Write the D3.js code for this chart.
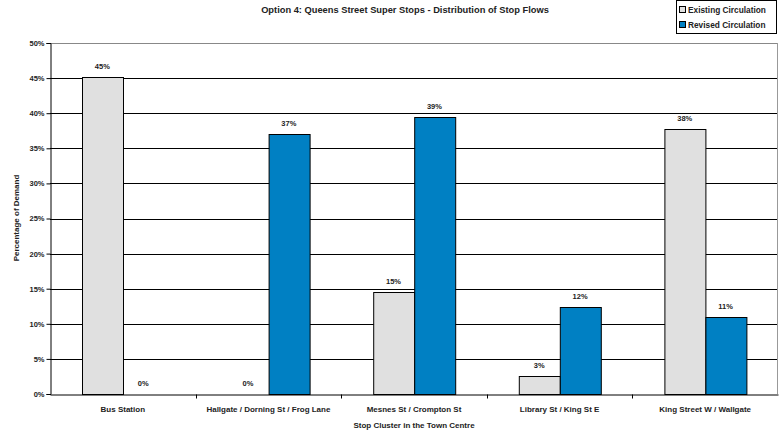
<!DOCTYPE html>
<html><head><meta charset="utf-8">
<script src="https://cdn.jsdelivr.net/npm/d3@7"></script>
<style>body{margin:0;background:#fff}svg{display:block}text{font-family:"Liberation Sans",Arial,sans-serif;font-weight:bold}</style>
</head><body><svg id="c" width="779" height="437"></svg>
<script>
const categories = ["Bus Station","Hallgate / Dorning St / Frog Lane","Mesnes St / Crompton St","Library St / King St E","King Street W / Wallgate"];
const seriesNames = ["Existing Circulation","Revised Circulation"];
const existing = [45.2, 0, 14.5, 2.5, 37.8];
const revised = [0, 37.0, 39.4, 12.4, 11.0];
const yTicks = [0,5,10,15,20,25,30,35,40,45,50];
const colors = ["#E0E0E0","#0080C3"];

const svg = d3.select("#c");
const m = {l:50, r:1, t:43, b:43};
const W = 779, H = 437;
const x0 = d3.scaleBand().domain(categories).range([m.l, W-m.r]).paddingInner(0).paddingOuter(0);
const x1 = d3.scaleBand().domain(seriesNames).range([0, x0.bandwidth()]).paddingInner(0).paddingOuter(0.78);
const y = d3.scaleLinear().domain([0,50]).range([H-m.b, m.t]);

// gridlines
svg.append("g").selectAll("line").data(yTicks.filter(t=>t>0)).join("line")
  .attr("x1", m.l).attr("x2", W-m.r).attr("y1", d=>Math.round(y(d))+0.5).attr("y2", d=>Math.round(y(d))+0.5)
  .attr("stroke", d=>d===50?"#888":"#000").attr("stroke-width",1);
// right border
svg.append("line").attr("x1",W-m.r-0.5).attr("x2",W-m.r-0.5).attr("y1",m.t).attr("y2",H-m.b).attr("stroke","#999");

const data = categories.map((c,i)=>({c, vals:[existing[i], revised[i]]}));
const g = svg.append("g").selectAll("g").data(data).join("g").attr("transform", d=>`translate(${x0(d.c)},0)`);
g.selectAll("rect").data(d=>d.vals.map((v,j)=>({v,s:seriesNames[j],j}))).join("rect")
  .filter(d=>d.v>0)
  .attr("x", d=>Math.round(x1(d.s))+0.5).attr("width", Math.round(x1.bandwidth()))
  .attr("y", d=>Math.round(y(d.v))+0.5).attr("height", d=>Math.round(y(0))-Math.round(y(d.v)))
  .attr("fill", d=>colors[d.j]).attr("stroke","#000").attr("stroke-width",1);
g.selectAll("text").data(d=>d.vals.map((v,j)=>({v,s:seriesNames[j],j}))).join("text")
  .attr("x", d=>x1(d.s)+x1.bandwidth()/2).attr("y", d=>y(d.v)-8)
  .attr("text-anchor","middle").attr("font-size","7.5px").attr("fill","#222")
  .text(d=>Math.round(d.v)+"%");

// y axis
const ya = d3.axisLeft(y).tickValues(yTicks).tickSize(4).tickFormat(d=>d+"%");
const yg = svg.append("g").attr("transform",`translate(${m.l+0.5},0)`).call(ya);
yg.select(".domain").attr("stroke","#000");
yg.selectAll(".tick text").attr("font-size","7.5px").attr("fill","#222").attr("x",-6);
// x axis
const xa = d3.axisBottom(x0).tickSize(0).tickPadding(12);
const xg = svg.append("g").attr("transform",`translate(0,${H-m.b+0.5})`).call(xa);
xg.select(".domain").attr("stroke","#000");
xg.selectAll(".tick text").attr("font-size","8px").attr("fill","#222");
// boundary ticks
xg.append("g").selectAll("line").data(categories.slice(1)).join("line")
  .attr("x1",d=>Math.round(x0(d))+0.5).attr("x2",d=>Math.round(x0(d))+0.5).attr("y1",0).attr("y2",4).attr("stroke","#000");

// titles
svg.append("text").attr("x",405).attr("y",13).attr("text-anchor","middle").attr("font-size","9.3px").attr("fill","#222")
  .text("Option 4: Queens Street Super Stops  - Distribution of Stop Flows");
svg.append("text").attr("x",414).attr("y",428).attr("text-anchor","middle").attr("font-size","8px").attr("fill","#222")
  .text("Stop Cluster in the Town Centre");
svg.append("text").attr("transform","translate(19,218) rotate(-90)").attr("text-anchor","middle").attr("font-size","8px").attr("fill","#222")
  .text("Percentage of Demand");

// legend
const lg = svg.append("g");
lg.append("rect").attr("x",676.5).attr("y",0.5).attr("width",100).attr("height",33).attr("fill","#fff").attr("stroke","#000");
seriesNames.forEach((s,i)=>{
  lg.append("rect").attr("x",679.5).attr("y",6.5+i*15).attr("width",6).attr("height",6).attr("fill",colors[i]).attr("stroke","#000");
  lg.append("text").attr("x",688).attr("y",13+i*15).attr("font-size","8.3px").attr("fill","#222").text(s);
});
</script></body></html>
